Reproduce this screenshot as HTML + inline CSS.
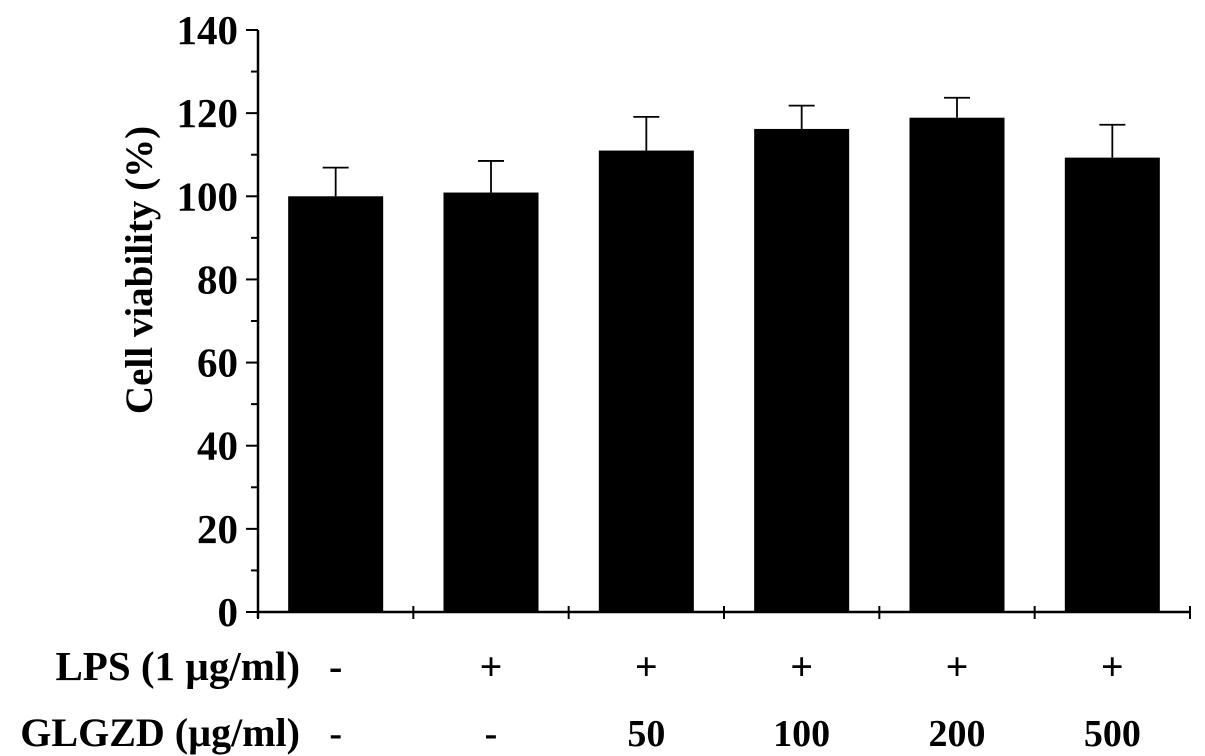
<!DOCTYPE html>
<html><head><meta charset="utf-8"><style>
html,body{margin:0;padding:0;background:#fff;}
svg{display:block;font-family:"Liberation Serif",serif;font-weight:bold;}
</style></head><body>
<svg id="chart" width="1205" height="756" viewBox="0 0 1205 756"></svg>
<script>
const categories = ["ctrl","lps","g50","g100","g200","g500"];
const values = [100, 100.9, 111, 116.2, 118.9, 109.3];
const errors = [6.9, 7.6, 8.1, 5.6, 4.8, 7.9];
const yTicks = [0,20,40,60,80,100,120,140];
const lpsLabels = ["-","+","+","+","+","+"];
const glgzdLabels = ["-","-","50","100","200","500"];

const NS="http://www.w3.org/2000/svg";
const svg=document.getElementById('chart');
const x0=258, x1=1190, y0=612, yTop=30, ymax=140;
const y=v=>y0-(v/ymax)*(y0-yTop);
const band=(x1-x0)/categories.length;
const xc=i=>x0+band*(i+0.5);
function mk(t,a,p){const e=document.createElementNS(NS,t);for(const k in a)e.setAttribute(k,a[k]);(p||svg).appendChild(e);return e;}

let e;
e=mk('line',{x1:x0,y1:y0,x2:x1,y2:y0,stroke:'#000','stroke-width':2.5});


e=mk('line',{x1:x0,y1:yTop,x2:x0,y2:y0+6,stroke:'#000','stroke-width':2.5});



for(let v=0;v<=ymax;v+=10){
  const major=v%20===0;
  e=mk('line',{x1:x0-(major?12:7),y1:y(v),x2:x0,y2:y(v),stroke:'#000','stroke-width':2});
  
  
}
yTicks.forEach(v=>{
  e=mk('text',{x:x0-20,y:y(v)+14,'text-anchor':'end','font-size':41});
  e.textContent=v;
  
  
});
for(let i=0;i<=categories.length;i++){
  const xx=x0+band*i;
  e=mk('line',{x1:xx,y1:y0-6,x2:xx,y2:y0+7,stroke:'#000','stroke-width':2});
  
  
}
const bw=95;
categories.forEach((c,i)=>{
  const cx=xc(i);
  const ey=y(values[i]+errors[i]);
  e=mk('line',{x1:cx,y1:y(values[i]),x2:cx,y2:ey,stroke:'#000','stroke-width':1.8});
  
  
  e=mk('line',{x1:cx-13,y1:ey,x2:cx+13,y2:ey,stroke:'#000','stroke-width':1.8});
  
  
  e=mk('rect',{x:cx-bw/2,y:y(values[i]),width:bw,height:y0-y(values[i]),fill:'#000'});
  
  
  e=mk('text',{x:cx,y:680,'text-anchor':'middle','font-size':40});
  e.textContent=lpsLabels[i];
  
  
  e=mk('text',{x:cx,y:746,'text-anchor':'middle','font-size':38});
  e.textContent=glgzdLabels[i];
  
  
});
e=mk('text',{x:300,y:680,'text-anchor':'end','font-size':41});
e.textContent="LPS (1 µg/ml)";


e=mk('text',{x:300,y:746,'text-anchor':'end','font-size':40});
e.textContent="GLGZD (µg/ml)";


e=mk('text',{x:0,y:0,'text-anchor':'middle','font-size':39,transform:'translate(152,270) rotate(-90)'});
e.textContent="Cell  viability  (%)";


</script>
</body></html>
